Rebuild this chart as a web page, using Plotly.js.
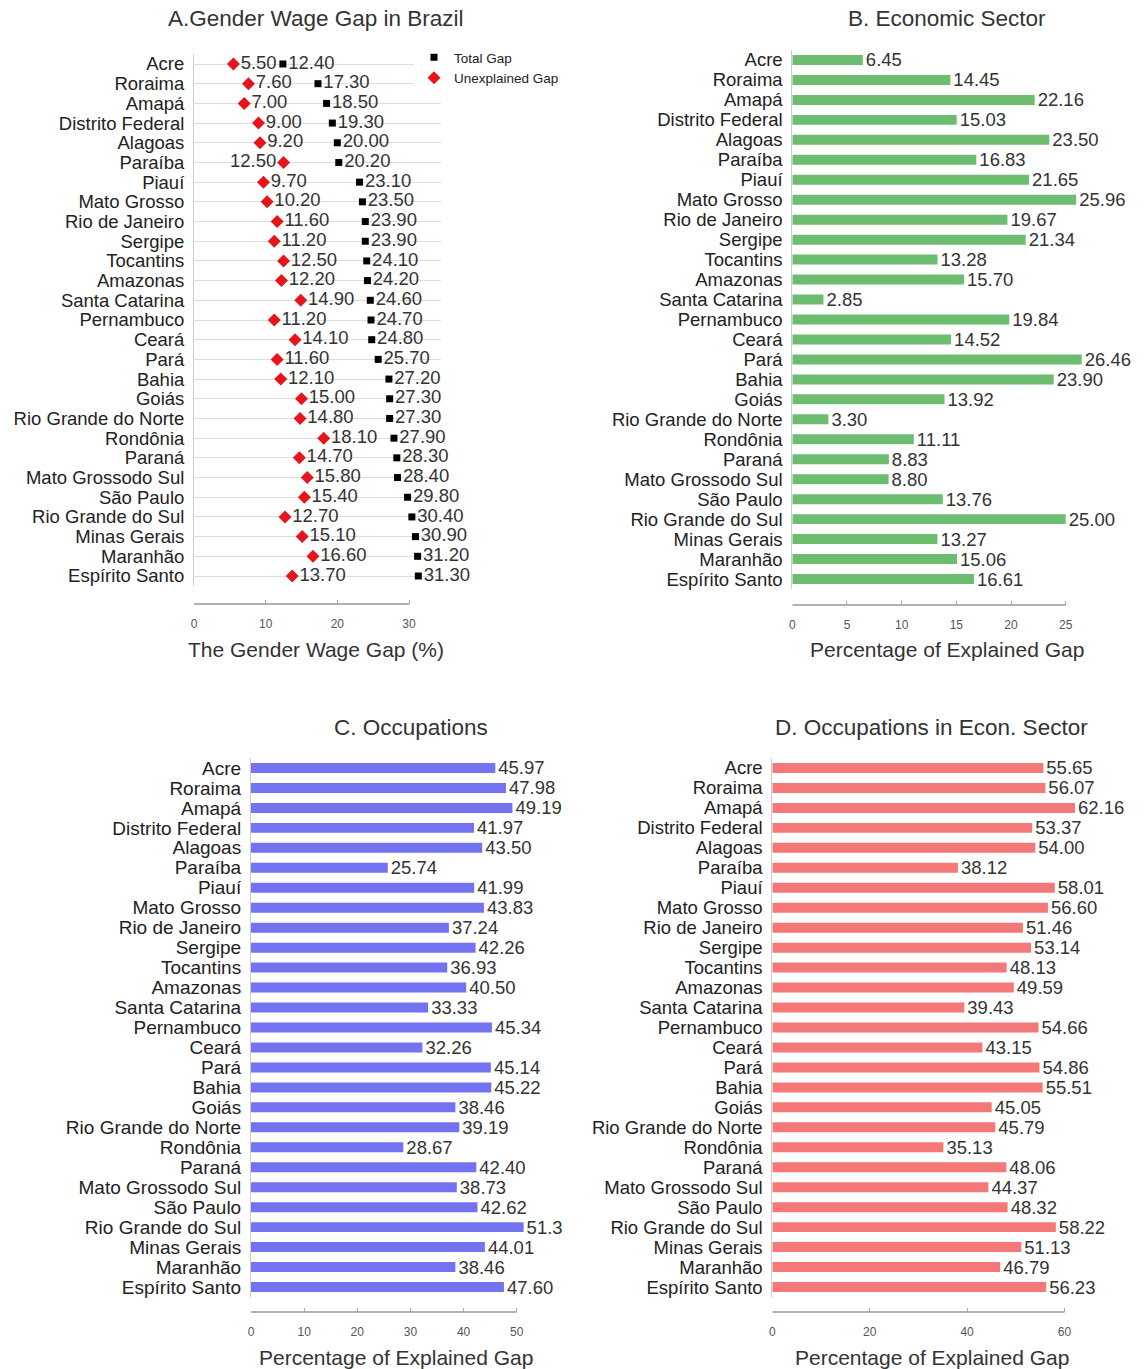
<!DOCTYPE html>
<html>
<head>
<meta charset="utf-8">
<script src="https://cdn.plot.ly/plotly-3.0.1.min.js"></script>
<style>html,body{margin:0;padding:0;background:#fff;}#chart{width:1147px;height:1369px;}</style>
</head>
<body>
<div id="chart"></div>
<script>
var states = ["Acre","Roraima","Amapá","Distrito Federal","Alagoas","Paraíba","Piauí","Mato Grosso","Rio de Janeiro","Sergipe","Tocantins","Amazonas","Santa Catarina","Pernambuco","Ceará","Pará","Bahia","Goiás","Rio Grande do Norte","Rondônia","Paraná","Mato Grossodo Sul","São Paulo","Rio Grande do Sul","Minas Gerais","Maranhão","Espírito Santo"];

var totalGap = [12.40,17.30,18.50,19.30,20.00,20.20,23.10,23.50,23.90,23.90,24.10,24.20,24.60,24.70,24.80,25.70,27.20,27.30,27.30,27.90,28.30,28.40,29.80,30.40,30.90,31.20,31.30];
var unexplainedGap = [5.50,7.60,7.00,9.00,9.20,12.50,9.70,10.20,11.60,11.20,12.50,12.20,14.90,11.20,14.10,11.60,12.10,15.00,14.80,18.10,14.70,15.80,15.40,12.70,15.10,16.60,13.70];

var economicSector = [6.45,14.45,22.16,15.03,23.50,16.83,21.65,25.96,19.67,21.34,13.28,15.70,2.85,19.84,14.52,26.46,23.90,13.92,3.30,11.11,8.83,8.80,13.76,25.00,13.27,15.06,16.61];

var occupations = [45.97,47.98,49.19,41.97,43.50,25.74,41.99,43.83,37.24,42.26,36.93,40.50,33.33,45.34,32.26,45.14,45.22,38.46,39.19,28.67,42.40,38.73,42.62,51.30,44.01,38.46,47.60];

var occInEconSector = [55.65,56.07,62.16,53.37,54.00,38.12,58.01,56.60,51.46,53.14,48.13,49.59,39.43,54.66,43.15,54.86,55.51,45.05,45.79,35.13,48.06,44.37,48.32,58.22,51.13,46.79,56.23];

var ticksA = [0,10,20,30];
var ticksB = [0,5,10,15,20,25];
var ticksC = [0,10,20,30,40,50];
var ticksD = [0,20,40,60];

var W = 1147, H = 1369;
function px(x){return x/W;}
function py(y){return 1 - y/H;}
var FONT = "Liberation Sans, Arial, sans-serif";
var TXT = "#333333";

function fmt(a){return a.map(function(v){return v.toFixed(2);});}

var unexplPos = unexplainedGap.map(function(v,i){return states[i]==="Paraíba" ? "middle left" : "middle right";});

var traces = [
  {type:"scatter", mode:"markers+text", name:"Total Gap", x:totalGap, y:states, xaxis:"x", yaxis:"y",
   marker:{symbol:"square", size:7, color:"#000000"}, text:fmt(totalGap), textposition:"middle right",
   textfont:{family:FONT, size:18.5, color:TXT}, cliponaxis:false, hoverinfo:"x+y"},
  {type:"scatter", mode:"markers+text", name:"Unexplained Gap", x:unexplainedGap, y:states, xaxis:"x", yaxis:"y",
   marker:{symbol:"diamond", size:10, color:"#e8141c"}, text:fmt(unexplainedGap), textposition:unexplPos,
   textfont:{family:FONT, size:18.5, color:TXT}, cliponaxis:false, hoverinfo:"x+y"},
  {type:"bar", orientation:"h", x:economicSector, y:states, xaxis:"x2", yaxis:"y2", width:0.5,
   marker:{color:"#6dbd70"}, text:fmt(economicSector), textposition:"outside", constraintext:"none",
   textfont:{family:FONT, size:18.5, color:TXT}, cliponaxis:false, showlegend:false},
  {type:"bar", orientation:"h", x:occupations, y:states, xaxis:"x3", yaxis:"y3", width:0.5,
   marker:{color:"#7373f2"}, text:fmt(occupations), textposition:"outside", constraintext:"none",
   textfont:{family:FONT, size:18.5, color:TXT}, cliponaxis:true, showlegend:false},
  {type:"bar", orientation:"h", x:occInEconSector, y:states, xaxis:"x4", yaxis:"y4", width:0.5,
   marker:{color:"#f47878"}, text:fmt(occInEconSector), textposition:"outside", constraintext:"none",
   textfont:{family:FONT, size:18.5, color:TXT}, cliponaxis:false, showlegend:false}
];

function xax(d0,d1,range,pos,tv){
  return {domain:[px(d0),px(d1)], range:range, anchor:"free", position:py(pos), showline:false,
    showgrid:false, zeroline:false, ticks:"inside", ticklen:4, tickwidth:1, tickcolor:"#aaaaaa",
    tickmode:"array", tickvals:tv, ticktext:tv.map(String), tickfont:{family:FONT, size:12, color:"#555555"},
    ticklabelstandoff:11, fixedrange:true};
}
function yax(top,bot,anchor,size,grid){
  return {domain:[py(bot),py(top)], type:"category", range:[26.5,-0.5], anchor:anchor,
    tickmode:"array", tickvals:states, ticktext:states,
    showline:true, linecolor:"#cccccc", linewidth:1, showgrid:grid, gridcolor:"#dddddd",
    zeroline:false, ticks:"", tickfont:{family:FONT, size:size, color:"#222222"},
    ticklabelstandoff:5, fixedrange:true};
}

var sA = (409-194)/30, sB = (1065.7-792.3)/25, sC = (516.7-251)/50, sD = (1064.5-772.3)/60;

var layout = {
  width:W, height:H, margin:{l:0,r:0,t:0,b:0}, paper_bgcolor:"#ffffff", plot_bgcolor:"#ffffff",
  font:{family:FONT, color:TXT},
  showlegend:true,
  legend:{x:px(414), y:py(42), xanchor:"left", yanchor:"top", bgcolor:"#ffffff",
    font:{family:FONT, size:13.5, color:"#222222"}, tracegroupgap:0},
  xaxis: xax(194, 441, [0,(441-194)/sA], 604, ticksA),
  yaxis: yax(54.15, 585.85, "x", 18.5, true),
  xaxis2: xax(792.3, 1147, [0,(1147-792.3)/sB], 605, ticksB),
  yaxis2: yax(50, 589, "x2", 18.5, false),
  xaxis3: xax(251, 563, [0,(563-251)/sC], 1312, ticksC),
  yaxis3: yax(758, 1297, "x3", 19, false),
  xaxis4: xax(772.3, 1147, [0,(1147-772.3)/sD], 1312, ticksD),
  yaxis4: yax(758, 1297, "x4", 18.5, false),
  shapes:[
    {type:"line", xref:"x", yref:"paper", x0:ticksA[0], x1:ticksA[ticksA.length-1], y0:py(604), y1:py(604), line:{color:"#999999", width:1.5}},
    {type:"line", xref:"x2", yref:"paper", x0:ticksB[0], x1:ticksB[ticksB.length-1], y0:py(605), y1:py(605), line:{color:"#999999", width:1.5}},
    {type:"line", xref:"x3", yref:"paper", x0:ticksC[0], x1:ticksC[ticksC.length-1], y0:py(1312), y1:py(1312), line:{color:"#999999", width:1.5}},
    {type:"line", xref:"x4", yref:"paper", x0:ticksD[0], x1:ticksD[ticksD.length-1], y0:py(1312), y1:py(1312), line:{color:"#999999", width:1.5}}
  ],
  annotations:[
    {text:"A.Gender Wage Gap in Brazil", x:px(316), y:py(19), xref:"paper", yref:"paper", showarrow:false, xanchor:"center", yanchor:"middle", font:{family:FONT, size:22.5, color:"#333333"}},
    {text:"B. Economic Sector", x:px(947), y:py(19), xref:"paper", yref:"paper", showarrow:false, xanchor:"center", yanchor:"middle", font:{family:FONT, size:22.5, color:"#333333"}},
    {text:"C. Occupations", x:px(411), y:py(727), xref:"paper", yref:"paper", showarrow:false, xanchor:"center", yanchor:"middle", font:{family:FONT, size:22.5, color:"#333333"}},
    {text:"D. Occupations in Econ. Sector", x:px(931), y:py(727), xref:"paper", yref:"paper", showarrow:false, xanchor:"center", yanchor:"middle", font:{family:FONT, size:22.5, color:"#333333"}},
    {text:"The Gender Wage Gap (%)", x:px(316), y:py(649), xref:"paper", yref:"paper", showarrow:false, xanchor:"center", yanchor:"middle", font:{family:FONT, size:21, color:"#333333"}},
    {text:"Percentage of Explained Gap", x:px(947), y:py(649), xref:"paper", yref:"paper", showarrow:false, xanchor:"center", yanchor:"middle", font:{family:FONT, size:21, color:"#333333"}},
    {text:"Percentage of Explained Gap", x:px(396), y:py(1357), xref:"paper", yref:"paper", showarrow:false, xanchor:"center", yanchor:"middle", font:{family:FONT, size:21, color:"#333333"}},
    {text:"Percentage of Explained Gap", x:px(932), y:py(1357), xref:"paper", yref:"paper", showarrow:false, xanchor:"center", yanchor:"middle", font:{family:FONT, size:21, color:"#333333"}}
  ]
};

Plotly.newPlot("chart", traces, layout, {displayModeBar:false, staticPlot:true});
</script>
</body>
</html>
